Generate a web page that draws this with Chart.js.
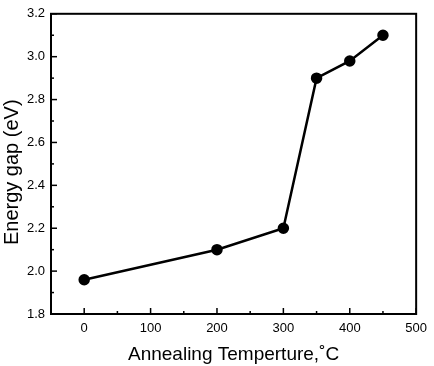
<!DOCTYPE html>
<html>
<head>
<meta charset="utf-8">
<script src="https://cdn.jsdelivr.net/npm/chart.js@4.4.1/dist/chart.umd.min.js"></script>
<style>
  html, body { margin: 0; padding: 0; background: #fff; }
  #wrap { width: 434px; height: 366px; }
</style>
</head>
<body>
<div id="wrap"><canvas id="gapChart"></canvas></div>
<script>
// annealing temperature (°C) vs energy gap (eV)
const temperatures = [0, 200, 300, 350, 400, 450];
const energyGaps = [1.96, 2.10, 2.20, 2.90, 2.98, 3.10];
const xTicks = [0, 100, 200, 300, 400, 500];
const yTicks = [1.8, 2.0, 2.2, 2.4, 2.6, 2.8, 3.0, 3.2];

const fontFamily = "'Liberation Sans', Arial, sans-serif";

// draws the frame and the inward major/minor ticks
const framePlugin = {
  id: 'frame',
  afterDraw: function(chart) {
    const ctx = chart.ctx;
    const area = chart.chartArea;
    const xs = chart.scales.x;
    const ys = chart.scales.y;
    ctx.save();
    ctx.strokeStyle = '#000';
    ctx.lineWidth = 2;
    ctx.strokeRect(area.left, area.top, area.right - area.left, area.bottom - area.top);
    ctx.lineWidth = 1.5;
    xs.ticks.forEach(t => {
      const px = xs.getPixelForValue(t.value);
      const len = xTicks.includes(t.value) ? 6 : 3;
      ctx.beginPath();
      ctx.moveTo(px, area.bottom);
      ctx.lineTo(px, area.bottom - len);
      ctx.stroke();
    });
    ys.ticks.forEach(t => {
      const py = ys.getPixelForValue(t.value);
      const major = yTicks.some(v => Math.abs(v - t.value) < 1e-6);
      const len = major ? 6 : 3;
      ctx.beginPath();
      ctx.moveTo(area.left, py);
      ctx.lineTo(area.left + len, py);
      ctx.stroke();
    });
    ctx.restore();
  }
};

new Chart(document.getElementById('gapChart'), {
  type: 'scatter',
  data: {
    datasets: [{
      data: temperatures.map((t, i) => ({ x: t, y: energyGaps[i] })),
      showLine: true,
      borderColor: '#000',
      backgroundColor: '#000',
      borderWidth: 2.5,
      pointRadius: 4.5,
      pointHoverRadius: 4.5
    }]
  },
  options: {
    responsive: true,
    maintainAspectRatio: false,
    animation: false,
    layout: { padding: { top: 10, right: 11, left: 0, bottom: 0 } },
    plugins: {
      legend: { display: false },
      tooltip: { enabled: false }
    },
    scales: {
      x: {
        type: 'linear',
        min: -50,
        max: 500,
        afterFit: function(scale) { scale.height = 52; },
        grid: { display: false, drawTicks: false },
        border: { display: false },
        ticks: {
          stepSize: 50,
          padding: 7,
          color: '#000',
          font: { family: fontFamily, size: 13 },
          callback: function(v) { return xTicks.includes(v) ? String(v) : ''; }
        },
        title: {
          display: true,
          text: 'Annealing Temperture,˚C',
          color: '#000',
          font: { family: fontFamily, size: 19 },
          padding: { top: 5, bottom: 0 }
        }
      },
      y: {
        min: 1.8,
        max: 3.2,
        afterFit: function(scale) { scale.width = 51; },
        grid: { display: false, drawTicks: false },
        border: { display: false },
        ticks: {
          stepSize: 0.1,
          padding: 6,
          color: '#000',
          font: { family: fontFamily, size: 13 },
          callback: function(v) {
            const major = yTicks.some(t => Math.abs(t - v) < 1e-6);
            return major ? v.toFixed(1) : '';
          }
        },
        title: {
          display: true,
          // trailing spaces nudge the label down like the original
          text: 'Energy gap (eV)   ',
          color: '#000',
          font: { family: fontFamily, size: 20 },
          padding: { top: 0, bottom: 0 }
        }
      }
    }
  },
  plugins: [framePlugin]
});
</script>
</body>
</html>
